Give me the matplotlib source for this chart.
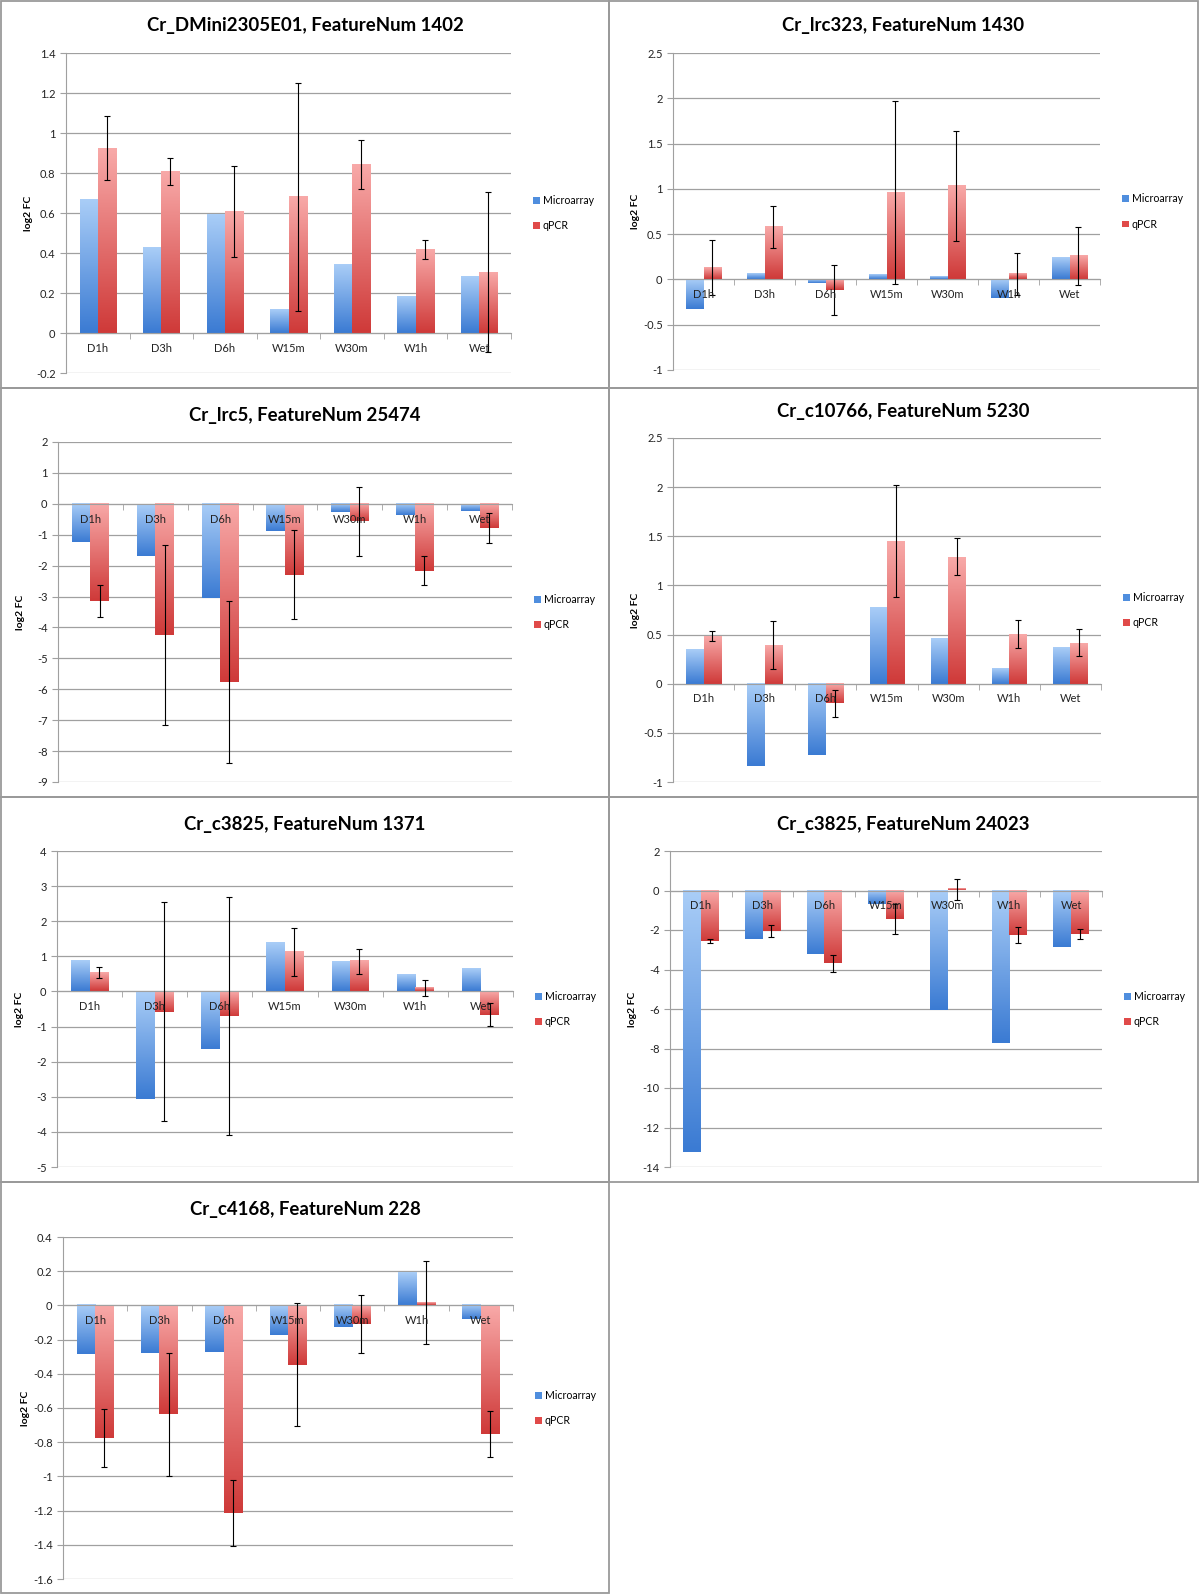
import numpy as np
import matplotlib
matplotlib.use("Agg")
import matplotlib.pyplot as plt
from matplotlib.colors import LinearSegmentedColormap
from matplotlib.patches import Rectangle, Patch
from matplotlib.ticker import FuncFormatter, MultipleLocator, FixedLocator

plt.rcParams['font.family'] = ['Lato', 'DejaVu Sans']

categories = ['D1h', 'D3h', 'D6h', 'W15m', 'W30m', 'W1h', 'Wet']

titles = ['Cr_DMini2305E01, FeatureNum 1402', 'Cr_lrc323, FeatureNum 1430',
          'Cr_lrc5, FeatureNum 25474', 'Cr_c10766, FeatureNum 5230',
          'Cr_c3825, FeatureNum 1371', 'Cr_c3825, FeatureNum 24023',
          'Cr_c4168, FeatureNum 228']

micro_1 = [0.67, 0.43, 0.595, 0.12, 0.345, 0.185, 0.283]
qpcr_1 = [0.925, 0.807, 0.608, 0.682, 0.843, 0.418, 0.305]
err_1 = [0.158, 0.066, 0.227, 0.57, 0.124, 0.046, 0.4]

micro_2 = [-0.324, 0.066, -0.04, 0.048, 0.026, -0.2, 0.232]
qpcr_2 = [0.132, 0.577, -0.121, 0.96, 1.033, 0.063, 0.254]
err_2 = [0.305, 0.23, 0.275, 1.01, 0.61, 0.23, 0.32]

micro_3 = [-1.25, -1.68, -3.05, -0.87, -0.26, -0.37, -0.22]
qpcr_3 = [-3.15, -4.24, -5.77, -2.29, -0.57, -2.17, -0.79]
err_3 = [0.52, 2.9, 2.63, 1.43, 1.13, 0.47, 0.48]

micro_4 = [0.356, -0.84, -0.726, 0.78, 0.46, 0.153, 0.37]
qpcr_4 = [0.485, 0.393, -0.2, 1.448, 1.292, 0.505, 0.417]
err_4 = [0.05, 0.24, 0.14, 0.57, 0.19, 0.145, 0.14]

micro_5 = [0.88, -3.06, -1.65, 1.376, 0.835, 0.465, 0.655]
qpcr_5 = [0.53, -0.58, -0.71, 1.12, 0.86, 0.11, -0.66]
err_5 = [0.16, 3.12, 3.39, 0.68, 0.36, 0.23, 0.33]

micro_6 = [-13.23, -2.44, -3.21, -0.66, -6.04, -7.73, -2.86]
qpcr_6 = [-2.555, -2.06, -3.69, -1.42, 0.07, -2.27, -2.22]
err_6 = [0.1, 0.3, 0.43, 0.76, 0.53, 0.41, 0.25]

micro_7 = [-0.287, -0.277, -0.271, -0.173, -0.129, 0.191, -0.082]
qpcr_7 = [-0.776, -0.637, -1.214, -0.347, -0.111, 0.016, -0.75]
err_7 = [0.168, 0.36, 0.193, 0.36, 0.169, 0.243, 0.134]

y_ranges = [(-0.2, 1.4, 0.2), (-1, 2.5, 0.5), (-9, 2, 1), (-1, 2.5, 0.5),
            (-5, 4, 1), (-14, 2, 2), (-1.6, 0.4, 0.2)]

micro_all = [micro_1, micro_2, micro_3, micro_4, micro_5, micro_6, micro_7]
qpcr_all = [qpcr_1, qpcr_2, qpcr_3, qpcr_4, qpcr_5, qpcr_6, qpcr_7]
err_all = [err_1, err_2, err_3, err_4, err_5, err_6, err_7]

W, H = 1200, 1595
# panel frames and plot areas in pixels (left, top, right, bottom)
boxes = [(1, 1, 609, 388), (609, 1, 1198, 388), (1, 388, 609, 797), (609, 388, 1198, 797),
         (1, 797, 609, 1182), (609, 797, 1198, 1182), (1, 1182, 609, 1593)]
areas = [(66, 53, 511, 373), (673, 53, 1100, 370), (58, 442, 512, 782), (673, 438, 1101, 782),
         (57, 851, 513, 1167), (670, 851, 1102, 1167), (63, 1237, 513, 1579)]
title_y = [26, 26, 415, 412, 824, 824, 1210]

blue_cmap = LinearSegmentedColormap.from_list('b', ['#a9cdf7', '#3b7bd3'])
red_cmap = LinearSegmentedColormap.from_list('r', ['#f8a9a8', '#cf3a39'])
grad = np.linspace(0, 1, 64).reshape(-1, 1)

fig = plt.figure(figsize=(W / 100, H / 100), dpi=100)


def gradient_bars(ax, bars, cmap):
    for b in bars:
        x, y, w, h = b.get_x(), b.get_y(), b.get_width(), b.get_height()
        lo, hi = min(y, y + h), max(y, y + h)
        ax.imshow(grad, cmap=cmap, extent=[x, x + w, lo, hi], origin='upper',
                  aspect='auto', zorder=2, interpolation='bilinear')


for k in range(7):
    bx0, by0, bx1, by1 = boxes[k]
    fig.patches.append(Rectangle((bx0 / W, 1 - by1 / H), (bx1 - bx0) / W, (by1 - by0) / H,
                                 transform=fig.transFigure, fill=False,
                                 edgecolor='#9a9a9a', lw=1.3))
    l, t, r, b = areas[k]
    ax = fig.add_axes([l / W, 1 - b / H, (r - l) / W, (b - t) / H])
    x = np.arange(len(categories))
    w = 0.286
    b1 = ax.bar(x - w / 2, micro_all[k], w, color='none', edgecolor='none')
    b2 = ax.bar(x + w / 2, qpcr_all[k], w, color='none', edgecolor='none')
    gradient_bars(ax, b1, blue_cmap)
    gradient_bars(ax, b2, red_cmap)
    ax.errorbar(x + w / 2, qpcr_all[k], yerr=err_all[k], fmt='none', ecolor='black',
                elinewidth=0.8, capsize=2.5, capthick=0.8, zorder=4)

    lo, hi, step = y_ranges[k]
    ax.set_xlim(-0.5, 6.5)
    ax.set_ylim(lo, hi)
    ax.yaxis.set_major_locator(MultipleLocator(step))
    ax.yaxis.set_major_formatter(FuncFormatter(lambda v, p: f"{round(v, 6):g}"))
    ax.grid(axis='y', color='#a0a0a0', lw=0.9)
    ax.set_axisbelow(True)

    for s in ['top', 'right']:
        ax.spines[s].set_visible(False)
    ax.spines['left'].set_color('#a0a0a0')
    ax.spines['bottom'].set_color('#a0a0a0')
    ax.spines['bottom'].set_position(('data', 0))
    ax.spines['bottom'].set_zorder(3)

    ax.set_xticks(x)
    ax.set_xticklabels(categories)
    ax.xaxis.set_minor_locator(FixedLocator(np.arange(-0.5, 7, 1)))
    ax.tick_params(axis='x', which='major', length=0, pad=7, labelsize=8, colors='#222222')
    ax.tick_params(axis='x', which='minor', length=4, color='#a0a0a0', direction='out')
    ax.tick_params(axis='y', length=4, color='#a0a0a0', labelsize=8, labelcolor='#222222')
    # category labels sit on top of the bars, as in the spreadsheet chart
    ax.xaxis.set_zorder(5)

    ax.set_ylabel('log2 FC', fontsize=7.5, fontweight='bold')
    ax.yaxis.set_label_coords(-33 / (r - l), 0.5)

    fig.text((bx0 + bx1) / 2 / W, 1 - title_y[k] / H, titles[k], ha='center', va='center',
             fontsize=13.4, fontweight='bold')

    handles = [Patch(facecolor='#4f8ede', label='Microarray'),
               Patch(facecolor='#e04a49', label='qPCR')]
    ax.legend(handles=handles, loc='center left', bbox_to_anchor=(1 + 18 / (r - l), 0.5),
              frameon=False, fontsize=7.6, handlelength=0.6, handleheight=0.6,
              handletextpad=0.3, labelspacing=1.35, borderaxespad=0)

fig.savefig('out.png', dpi=100)
